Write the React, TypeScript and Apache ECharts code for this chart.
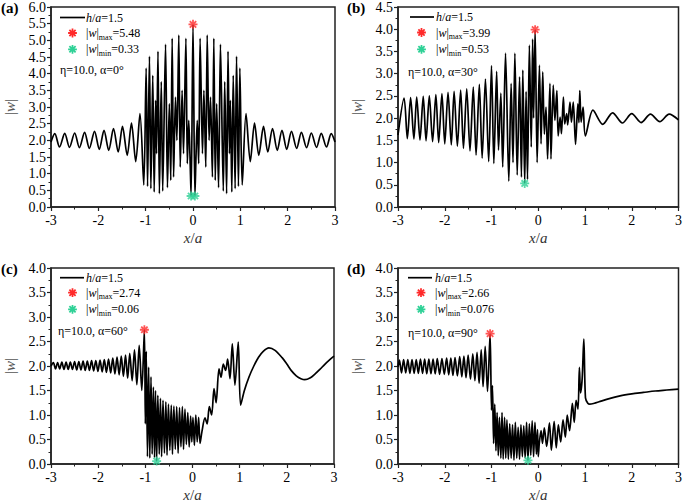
import React, { useEffect, useRef } from 'react';
import * as echarts from 'echarts';

const FONT = 'Liberation Serif';

// ---------- data ----------
const ptsA: number[][] = [
  [-3.00,1.95],[-2.92,2.20],[-2.82,1.80],[-2.71,2.21],[-2.61,1.79],[-2.50,2.22],[-2.40,1.78],[-2.29,2.24],[-2.19,1.76],[-2.08,2.27],[-1.98,1.73],[-1.88,2.30],[-1.78,1.70],[-1.68,2.35],[-1.58,1.65],[-1.49,2.42],[-1.39,1.55],[-1.30,2.52],[-1.21,1.36],[-1.12,2.80],
  [-1.04,0.66],[-0.99,4.17],[-0.96,0.62],[-0.92,4.52],[-0.89,0.55],[-0.85,3.95],[-0.82,0.45],[-0.79,3.2],[-0.77,1.6],[-0.74,4.67],[-0.71,0.40],[-0.67,3.76],[-0.64,0.48],[-0.58,4.88],[-0.54,0.58],[-0.50,3.1],[-0.47,0.8],[-0.44,5.06],[-0.41,0.9],[-0.37,3.3],[-0.34,2.0],[-0.30,5.16],[-0.27,1.2],[-0.23,3.5],[-0.20,1.6],[-0.15,5.06],[-0.12,1.3],[-0.09,2.6],[-0.065,1.6],[-0.04,0.33],[0,5.48],
  [0.04,0.33],[0.065,1.6],[0.09,2.6],[0.12,1.3],[0.15,5.06],[0.20,1.6],[0.23,3.5],[0.27,1.2],[0.30,5.16],[0.34,2.0],[0.37,3.3],[0.41,0.9],[0.44,5.06],[0.47,0.8],[0.50,3.1],[0.54,0.58],[0.58,4.88],[0.64,0.48],[0.67,3.76],[0.71,0.40],[0.74,4.67],[0.77,1.6],[0.79,3.2],[0.82,0.45],[0.85,3.95],[0.89,0.55],[0.92,4.52],[0.96,0.62],[0.99,4.17],[1.04,0.66],
  [1.12,2.80],[1.21,1.36],[1.30,2.52],[1.39,1.55],[1.49,2.42],[1.58,1.65],[1.68,2.35],[1.78,1.70],[1.88,2.30],[1.98,1.73],[2.08,2.27],[2.19,1.76],[2.29,2.24],[2.40,1.78],[2.50,2.22],[2.61,1.79],[2.71,2.21],[2.82,1.80],[2.92,2.20],[3.00,1.95],
];
const maxA: number[][] = [[0, 5.48]];
const minA: number[][] = [[-0.04, 0.33], [0.04, 0.33]];

const ptsB: number[][] = [
  [-3.00,1.62],[-2.87,2.45],[-2.80,1.54],[-2.73,2.46],[-2.66,1.53],[-2.60,2.47],[-2.53,1.51],[-2.46,2.49],[-2.40,1.49],[-2.33,2.50],[-2.26,1.47],[-2.19,2.53],[-2.13,1.45],[-2.06,2.55],[-2.00,1.42],[-1.93,2.58],[-1.86,1.40],[-1.80,2.60],[-1.73,1.37],[-1.66,2.63],[-1.60,1.32],[-1.53,2.66],[-1.46,1.26],[-1.39,2.70],[-1.33,1.17],[-1.26,2.76],[-1.20,1.10],[-1.13,2.88],[-1.06,1.02],
  [-1.00,3.18],[-0.95,0.98],[-0.89,3.05],[-0.85,1.28],[-0.80,2.56],[-0.76,0.9],[-0.70,3.46],[-0.63,0.58],[-0.58,2.78],[-0.54,1.0],[-0.50,3.46],[-0.45,0.72],[-0.40,2.93],[-0.36,0.67],[-0.33,3.08],[-0.29,0.53],[-0.26,2.6],[-0.23,0.62],[-0.19,3.64],[-0.15,1.35],[-0.12,3.78],[-0.10,2.0],[-0.067,3.99],
  [-0.024,1.0],[0.025,3.19],[0.06,1.42],[0.096,3.04],[0.131,1.64],[0.166,2.25],[0.20,1.08],[0.25,2.78],[0.272,1.08],[0.321,2.74],[0.356,1.95],[0.398,2.62],[0.426,1.6],[0.468,2.02],[0.496,1.65],[0.538,2.47],[0.566,1.87],[0.608,2.1],[0.63,1.85],[0.679,2.36],[0.71,1.91],[0.749,2.36],[0.798,1.41],[0.847,2.32],[0.87,1.9],[0.889,2.62],[0.917,1.91],[0.959,2.25],[1.008,1.6],
  [1.17,2.18],[1.38,1.86],[1.59,2.12],[1.80,1.89],[2.00,2.10],[2.20,1.90],[2.40,2.09],[2.60,1.92],[2.80,2.09],[3.00,1.96],
];
const maxB: number[][] = [[-0.067, 3.99]];
const minB: number[][] = [[-0.29, 0.53]];

const ptsC: number[][] = [
  [-3.00,2.00],[-2.95,2.07],[-2.905,1.94],[-2.86,2.07],[-2.815,1.94],[-2.77,2.08],[-2.725,1.93],[-2.68,2.08],[-2.635,1.93],[-2.59,2.08],[-2.545,1.93],[-2.50,2.09],[-2.455,1.92],[-2.41,2.09],[-2.365,1.92],[-2.32,2.10],[-2.275,1.91],[-2.23,2.10],[-2.185,1.91],[-2.14,2.11],[-2.095,1.90],[-2.05,2.11],[-2.005,1.89],[-1.96,2.12],[-1.915,1.88],[-1.87,2.13],[-1.825,1.87],[-1.78,2.14],[-1.735,1.86],[-1.69,2.16],[-1.645,1.84],[-1.60,2.18],[-1.555,1.82],[-1.51,2.20],[-1.465,1.79],[-1.42,2.22],[-1.375,1.75],[-1.33,2.26],[-1.28,1.70],[-1.23,2.33],[-1.18,1.62],[-1.13,2.42],[-1.075,1.50],[-1.02,2.74],
  [-1.00,0.82],[-0.98,2.3],[-0.955,0.15],[-0.93,1.98],[-0.905,0.12],[-0.88,1.78],[-0.855,0.2],[-0.83,1.57],[-0.805,0.13],[-0.785,1.5],[-0.76,0.06],[-0.735,1.4],[-0.705,0.2],[-0.68,1.34],[-0.655,0.15],[-0.625,1.3],[-0.595,0.22],[-0.565,1.27],[-0.54,0.18],[-0.51,1.22],[-0.48,0.28],[-0.45,1.2],[-0.425,0.2],[-0.395,1.18],[-0.365,0.3],[-0.335,1.17],[-0.305,0.22],[-0.275,1.15],[-0.245,0.35],[-0.215,1.17],[-0.19,0.3],[-0.16,1.12],[-0.13,0.4],[-0.10,1.05],[-0.07,0.35],[-0.04,0.98],[-0.015,0.45],[0.01,0.95],[0.04,0.38],[0.07,1.0],[0.10,0.45],[0.13,0.95],[0.16,0.42],
  [0.20,0.66],[0.265,0.94],[0.31,0.82],[0.357,1.17],[0.406,1.0],[0.456,1.54],[0.50,1.25],[0.562,1.94],[0.605,1.77],[0.653,2.04],[0.703,1.91],[0.745,2.14],[0.795,1.74],[0.844,2.45],[0.90,1.61],[0.97,2.49],[1.02,1.2],
  [1.10,1.5],[1.20,1.78],[1.30,2.0],[1.40,2.18],[1.50,2.30],[1.62,2.37],[1.75,2.32],[1.90,2.17],[2.00,2.04],[2.10,1.90],[2.20,1.80],[2.30,1.74],[2.38,1.72],[2.50,1.76],[2.60,1.84],[2.70,1.93],[2.80,2.03],[2.90,2.12],[3.00,2.20],
];
const maxC: number[][] = [[-1.02, 2.74]];
const minC: number[][] = [[-0.76, 0.06]];

const ptsD: number[][] = [
  [-3.00,1.98],[-2.97,2.12],[-2.925,1.86],[-2.88,2.13],[-2.835,1.86],[-2.79,2.13],[-2.745,1.85],[-2.70,2.13],[-2.655,1.85],[-2.61,2.13],[-2.565,1.85],[-2.52,2.14],[-2.475,1.85],[-2.43,2.14],[-2.385,1.84],[-2.34,2.14],[-2.295,1.84],[-2.25,2.14],[-2.205,1.84],[-2.16,2.15],[-2.11,1.83],[-2.06,2.15],[-2.01,1.83],[-1.96,2.16],[-1.915,1.82],[-1.87,2.16],[-1.825,1.81],[-1.78,2.17],[-1.73,1.80],[-1.68,2.19],[-1.635,1.78],[-1.59,2.20],[-1.545,1.76],[-1.50,2.22],[-1.45,1.73],[-1.40,2.25],[-1.355,1.70],[-1.31,2.28],[-1.265,1.65],[-1.22,2.33],[-1.18,1.58],[-1.135,2.40],[-1.085,1.48],[-1.03,2.66],
  [-1.00,1.1],[-0.98,1.6],[-0.955,0.42],[-0.93,1.22],[-0.905,0.27],[-0.88,1.05],[-0.855,0.17],[-0.83,0.95],[-0.80,0.12],[-0.775,1.05],[-0.75,0.10],[-0.72,0.95],[-0.695,0.12],[-0.67,0.9],[-0.64,0.10],[-0.61,0.82],[-0.58,0.12],[-0.55,0.80],[-0.52,0.08],[-0.49,0.85],[-0.46,0.12],[-0.43,0.75],[-0.40,0.10],[-0.37,0.80],[-0.34,0.15],[-0.31,0.78],[-0.28,0.12],[-0.25,0.85],[-0.22,0.076],[-0.19,0.82],[-0.16,0.18],[-0.13,0.88],[-0.10,0.15],[-0.07,0.85],[-0.04,0.2],[-0.015,0.7],[0.0,0.15],[0.025,0.45],
  [0.06,0.68],[0.09,0.42],[0.13,0.74],[0.18,0.36],[0.24,0.84],[0.28,0.28],[0.34,0.87],[0.385,0.33],[0.43,0.8],[0.48,0.45],[0.53,0.9],[0.58,0.55],[0.62,1.0],[0.67,0.68],[0.73,1.24],[0.77,0.85],[0.81,1.3],[0.85,1.12],[0.88,1.97],[0.905,1.45],[0.94,1.75],[0.975,2.55],
  [1.01,1.35],[1.06,1.24],[1.10,1.22],[1.20,1.24],[1.30,1.27],[1.50,1.33],[1.75,1.39],[2.00,1.43],[2.25,1.46],[2.50,1.49],[2.75,1.51],[3.00,1.53],
];
const maxD: number[][] = [[-1.03, 2.66]];
const minD: number[][] = [[-0.22, 0.076]];

const panelLetters = ['(a)', '(b)', '(c)', '(d)'];
const yMaxes = [6, 4.5, 4, 4];
const maxLabels = ['5.48', '3.99', '2.74', '2.66'];
const minLabels = ['0.33', '0.53', '0.06', '0.076'];
const angleLabels = ['η=10.0, α=0°', 'η=10.0, α=30°', 'η=10.0, α=60°', 'η=10.0, α=90°'];
const hOverA = '1.5';

// ---------- layout ----------
const grids = [
  { left: 51, top: 7, width: 284, height: 200 },
  { left: 398, top: 7, width: 285, height: 200 },
  { left: 51, top: 268, width: 283, height: 199 },
  { left: 398, top: 268, width: 285, height: 199 },
];
const letterPos = [[1, 8], [347, 8], [1, 269], [347, 269]];
const legendPos = [
  { x0: 60, x1: 85, star: 72.5, tx: 86, rows: [17.5, 33, 49.3], eta: [60, 70] },
  { x0: 410, x1: 434, star: 421.5, tx: 436, rows: [17, 32.5, 49.3], eta: [408, 72] },
  { x0: 60, x1: 84, star: 72.5, tx: 86, rows: [277.7, 292.7, 309.3], eta: [58, 331] },
  { x0: 408, x1: 432, star: 421, tx: 435, rows: [277.7, 292.7, 309.3], eta: [408, 333] },
];

const AST =
  'M-4,-0.8L4,-0.8L4,0.8L-4,0.8Z M-0.8,-4L0.8,-4L0.8,4L-0.8,4Z M-2.26,-3.4L3.4,2.26L2.26,3.4L-3.4,-2.26Z M2.26,-3.4L3.4,-2.26L-2.26,3.4L-3.4,2.26Z';
const RED = '#ff2a2a';
const GREEN = '#2ed196';
const AXIS = '#222';

let registered = false;
function ensureShape() {
  if (registered) return;
  echarts.graphic.registerShape('asterisk', echarts.graphic.extendPath(AST, {}) as any);
  registered = true;
}

const rich = {
  i: { fontStyle: 'italic', fontFamily: FONT, fontSize: 12, lineHeight: 16, color: '#000' },
  s: { fontFamily: FONT, fontSize: 8, lineHeight: 8, verticalAlign: 'bottom', color: '#000' },
};

function legendText(x: number, y: number, text: string) {
  return {
    type: 'text',
    x,
    y,
    silent: true,
    style: {
      text,
      fontFamily: FONT,
      fontSize: 12,
      lineHeight: 16,
      fill: '#000',
      align: 'left',
      verticalAlign: 'middle',
      rich,
    },
  };
}

export default function App() {
  const ref = useRef<HTMLDivElement>(null);
  useEffect(() => {
    document.body.style.margin = '0';
    ensureShape();
    const chart = echarts.init(ref.current!, null, { renderer: 'svg' });
    const pts = [ptsA, ptsB, ptsC, ptsD];
    const maxes = [maxA, maxB, maxC, maxD];
    const mins = [minA, minB, minC, minD];

    const xAxis = grids.map((_, i) => ({
      type: 'value',
      gridIndex: i,
      min: -3,
      max: 3,
      interval: 1,
      name: '{i|x}/{i|a}',
      nameLocation: 'middle',
      nameGap: 23,
      nameTextStyle: {
        fontFamily: FONT,
        fontSize: 15,
        color: '#333',
        rich: { i: { fontStyle: 'italic', fontFamily: FONT, fontSize: 15, color: '#333' } },
      },
      axisLine: { show: true, onZero: false, lineStyle: { color: AXIS, width: 1.5 } },
      axisTick: { show: true, inside: false, length: 4, lineStyle: { color: AXIS, width: 1.2 } },
      minorTick: { show: true, splitNumber: 2, length: 2.5, lineStyle: { color: AXIS, width: 1 } },
      splitLine: { show: false },
      axisLabel: {
        fontFamily: FONT,
        fontSize: 14,
        color: '#000',
        margin: 6,
        formatter: (v: number) => String(Math.round(v)),
      },
    }));

    const yAxis = grids.map((_, i) => ({
      type: 'value',
      gridIndex: i,
      min: 0,
      max: yMaxes[i],
      interval: 0.5,
      name: '|{i|w}|',
      nameLocation: 'middle',
      nameGap: 34,
      nameTextStyle: {
        fontFamily: FONT,
        fontSize: 15,
        color: '#555',
        rich: { i: { fontStyle: 'italic', fontFamily: FONT, fontSize: 15, color: '#555' } },
      },
      axisLine: { show: true, onZero: false, lineStyle: { color: AXIS, width: 1.5 } },
      axisTick: { show: true, inside: false, length: 4, lineStyle: { color: AXIS, width: 1.2 } },
      minorTick: { show: true, splitNumber: 2, length: 2.5, lineStyle: { color: AXIS, width: 1 } },
      splitLine: { show: false },
      axisLabel: {
        fontFamily: FONT,
        fontSize: 14,
        color: '#000',
        margin: 5,
        formatter: (v: number) => v.toFixed(1),
      },
    }));

    const series: any[] = [];
    pts.forEach((p, i) => {
      series.push({
        type: 'line',
        xAxisIndex: i,
        yAxisIndex: i,
        data: p,
        symbol: 'none',
        showSymbol: false,
        smooth: 0.3,
        lineStyle: { color: '#000', width: 1.7 },
        z: 2,
        silent: true,
      });
      series.push({
        type: 'scatter',
        xAxisIndex: i,
        yAxisIndex: i,
        data: maxes[i],
        symbol: 'path://' + AST,
        symbolSize: 9,
        itemStyle: { color: RED },
        z: 5,
        silent: true,
      });
      series.push({
        type: 'scatter',
        xAxisIndex: i,
        yAxisIndex: i,
        data: mins[i],
        symbol: 'path://' + AST,
        symbolSize: 9,
        itemStyle: { color: GREEN },
        z: 5,
        silent: true,
      });
    });

    const graphic: any[] = [];
    grids.forEach((_, i) => {
      const L = legendPos[i];
      graphic.push({
        type: 'text',
        x: letterPos[i][0],
        y: letterPos[i][1],
        silent: true,
        style: {
          text: panelLetters[i],
          fontFamily: FONT,
          fontSize: 15,
          fontWeight: 'bold',
          fill: '#000',
          align: 'left',
          verticalAlign: 'middle',
        },
      });
      graphic.push({
        type: 'line',
        silent: true,
        shape: { x1: L.x0, y1: L.rows[0], x2: L.x1, y2: L.rows[0] },
        style: { stroke: '#000', lineWidth: 1.7 },
      });
      graphic.push(legendText(L.tx, L.rows[0], '{i|h}/{i|a}=' + hOverA));
      graphic.push({
        type: 'asterisk',
        x: L.star,
        y: L.rows[1],
        scaleX: 1.1,
        scaleY: 1.1,
        silent: true,
        style: { fill: RED },
      });
      graphic.push(legendText(L.tx, L.rows[1], '|{i|w}|{s|max}=' + maxLabels[i]));
      graphic.push({
        type: 'asterisk',
        x: L.star,
        y: L.rows[2],
        scaleX: 1.1,
        scaleY: 1.1,
        silent: true,
        style: { fill: GREEN },
      });
      graphic.push(legendText(L.tx, L.rows[2], '|{i|w}|{s|min}=' + minLabels[i]));
      graphic.push({
        type: 'text',
        x: L.eta[0],
        y: L.eta[1],
        silent: true,
        style: {
          text: angleLabels[i],
          fontFamily: FONT,
          fontSize: 12,
          fill: '#000',
          align: 'left',
          verticalAlign: 'middle',
        },
      });
    });

    chart.setOption({
      animation: false,
      backgroundColor: '#fff',
      textStyle: { fontFamily: FONT },
      grid: grids.map((g) => ({ ...g, show: true, borderColor: AXIS, borderWidth: 1.5, backgroundColor: 'transparent' })),
      xAxis,
      yAxis,
      series,
      graphic,
    } as any);
    return () => chart.dispose();
  }, []);

  return (
    <div
      ref={ref}
      style={{ position: 'fixed', left: 0, top: 0, width: 685, height: 503, background: '#fff' }}
    />
  );
}
